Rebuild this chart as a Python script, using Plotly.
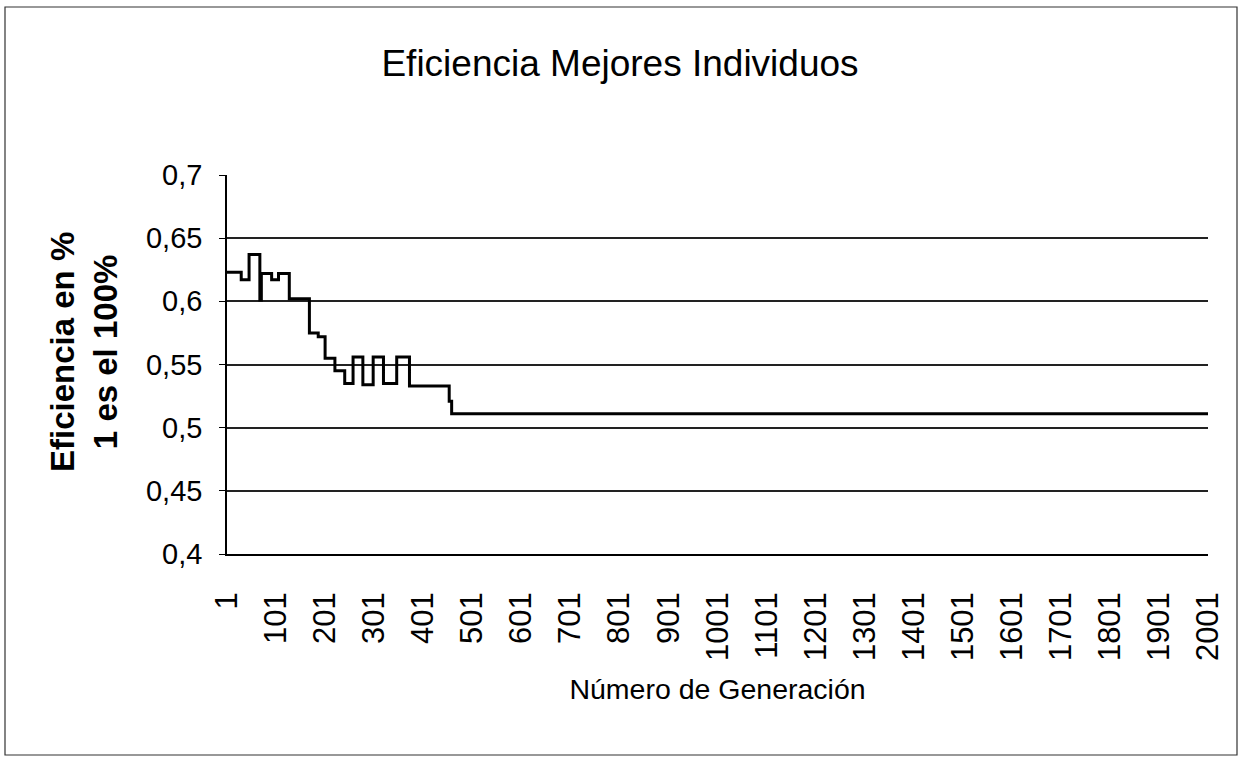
import plotly.graph_objects as go

# Generation at which the best individual's efficiency changes, and the new value
step_generation = [1, 30, 46, 68, 71, 92, 106, 128, 169, 187, 201, 221, 241, 258,
                   278, 299, 320, 347, 373, 454, 459, 2001]
step_efficiency = [0.623, 0.617, 0.637, 0.601, 0.622, 0.617, 0.622, 0.602, 0.575,
                   0.572, 0.555, 0.545, 0.535, 0.556, 0.534, 0.556, 0.535, 0.556,
                   0.533, 0.521, 0.511, 0.511]

x_tick_values = list(range(1, 2002, 100))
x_tick_labels = [str(v) for v in x_tick_values]
y_tick_values = [0.4, 0.45, 0.5, 0.55, 0.6, 0.65, 0.7]
y_tick_labels = ["0,4", "0,45", "0,5", "0,55", "0,6", "0,65", "0,7"]

FONT = "Liberation Sans, Arial, sans-serif"

fig = go.Figure()
fig.add_trace(go.Scatter(
    x=step_generation, y=step_efficiency, mode="lines",
    line=dict(color="black", width=3, shape="hv"),
    showlegend=False, hoverinfo="skip",
))

fig.update_layout(
    width=1240, height=764,
    margin=dict(l=227, r=32, t=175, b=210),
    paper_bgcolor="white", plot_bgcolor="white",
    font=dict(family=FONT, color="black"),
    title=dict(text="Eficiencia Mejores Individuos", x=0.5, xanchor="center",
               y=0.918, yanchor="middle", font=dict(size=37, family=FONT)),
    xaxis=dict(
        range=[1, 2001], tickmode="array", tickvals=x_tick_values,
        ticktext=x_tick_labels, tickangle=-90, tickfont=dict(size=31),
        showgrid=False, zeroline=False, showline=True, linecolor="black",
        linewidth=1.5, ticks="", ticklabelstandoff=24,
        title=dict(text="Número de Generación", font=dict(size=28.5), standoff=19),
    ),
    yaxis=dict(
        range=[0.4, 0.7], tickmode="array", tickvals=y_tick_values,
        ticktext=y_tick_labels, tickfont=dict(size=29),
        showgrid=True, gridcolor="#222", gridwidth=1.5, zeroline=False,
        showline=True, linecolor="black", linewidth=1.5,
        ticks="outside", ticklen=6, tickcolor="black", ticklabelstandoff=11,
    ),
)

# Vertical y-axis title, two bold lines
fig.add_annotation(
    text="<b>Eficiencia en %<br>1 es el 100%</b>", textangle=-90,
    xref="paper", yref="paper", x=(84 - 227) / 981, y=(554 - 352) / 379,
    xanchor="center", yanchor="middle", showarrow=False,
    font=dict(size=33, family=FONT, color="black"),
)

# Outer chart border
fig.add_shape(type="rect", xref="paper", yref="paper",
              x0=-222 / 981, x1=(1237 - 227) / 981,
              y0=-(755 - 554) / 379, y1=(554 - 7) / 379,
              line=dict(color="#333", width=1.2), layer="below")

fig.write_html("out.html")
